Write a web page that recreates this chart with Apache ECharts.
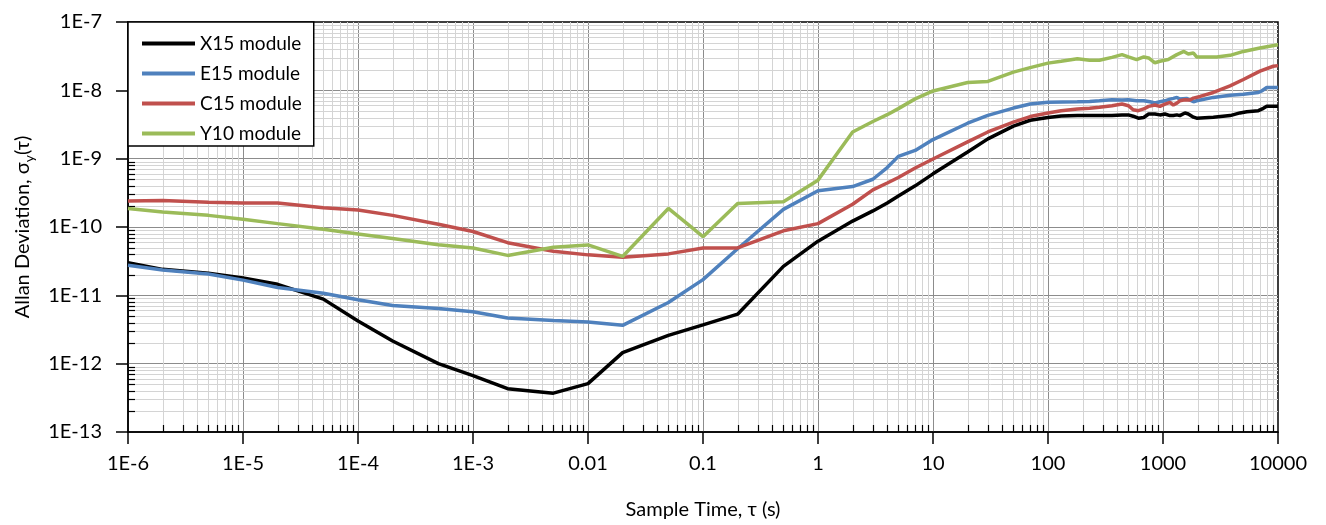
<!DOCTYPE html>
<html>
<head>
<meta charset="utf-8">
<script src="https://cdn.jsdelivr.net/npm/echarts@6/dist/echarts.min.js"></script>
<style>
html, body { margin: 0; padding: 0; background: #fff; }
#chart { width: 1326px; height: 525px; }
</style>
</head>
<body>
<div id="chart"></div>
<script>
// sample times shared by all four modules up to 100 s
const tau = [1e-6, 2e-6, 5e-6, 1e-5, 2e-5, 5e-5, 1e-4, 2e-4, 5e-4, 1e-3, 2e-3, 5e-3,
    0.01, 0.02, 0.05, 0.1, 0.2, 0.5, 1, 2, 3, 4, 5, 7, 10, 20, 30, 50, 70, 100]

const x15 = [3.0e-11, 2.4e-11, 2.1e-11, 1.8e-11, 1.45e-11, 8.8e-12, 4.2e-12, 2.15e-12, 1.0e-12, 6.7e-13, 4.3e-13, 3.7e-13,
    5.1e-13, 1.45e-12, 2.6e-12, 3.7e-12, 5.3e-12, 2.65e-11, 6.2e-11, 1.22e-10, 1.72e-10, 2.25e-10, 2.85e-10, 4.0e-10, 6.0e-10, 1.25e-9, 1.95e-9, 3.0e-9, 3.65e-9, 4.0e-9]
const e15 = [2.75e-11, 2.35e-11, 2.05e-11, 1.67e-11, 1.3e-11, 1.07e-11, 8.6e-12, 7.1e-12, 6.4e-12, 5.75e-12, 4.65e-12, 4.3e-12,
    4.07e-12, 3.64e-12, 7.84e-12, 1.7e-11, 4.8e-11, 1.81e-10, 3.4e-10, 3.9e-10, 5.0e-10, 7.4e-10, 1.08e-9, 1.32e-9, 1.9e-9, 3.3e-9, 4.3e-9, 5.5e-9, 6.3e-9, 6.7e-9]
const c15 = [2.4e-10, 2.45e-10, 2.3e-10, 2.24e-10, 2.24e-10, 1.91e-10, 1.77e-10, 1.48e-10, 1.1e-10, 8.6e-11, 5.9e-11, 4.43e-11,
    3.91e-11, 3.62e-11, 4.04e-11, 4.94e-11, 4.94e-11, 8.8e-11, 1.12e-10, 2.15e-10, 3.5e-10, 4.4e-10, 5.3e-10, 7.3e-10, 9.9e-10, 1.76e-9, 2.46e-9, 3.43e-9, 4.13e-9, 4.65e-9]
const y10 = [1.87e-10, 1.66e-10, 1.48e-10, 1.3e-10, 1.12e-10, 9.3e-11, 7.9e-11, 6.8e-11, 5.5e-11, 4.94e-11, 3.84e-11, 5.06e-11,
    5.46e-11, 3.71e-11, 1.87e-10, 7.22e-11, 2.21e-10, 2.34e-10, 4.85e-10, 2.45e-9, 3.5e-9, 4.4e-9, 5.4e-9, 7.5e-9, 9.8e-9, 1.3e-8, 1.35e-8, 1.85e-8, 2.15e-8, 2.5e-8]

// long sample times, each module has its own points
const x15TailTau = [130, 180, 280, 360, 440, 500, 550, 610, 680, 750, 850, 940, 1040, 1150, 1230, 1320, 1400, 1550, 1660, 1840, 1960, 2740, 3830, 4670, 5350, 6750, 7460, 7980, 10000]
const x15Tail = [4.2e-9, 4.27e-9, 4.27e-9, 4.27e-9, 4.37e-9, 4.37e-9, 4.18e-9, 3.91e-9, 4.0e-9, 4.5e-9, 4.5e-9, 4.37e-9, 4.5e-9, 4.27e-9, 4.27e-9, 4.37e-9, 4.27e-9, 4.67e-9, 4.5e-9, 4.05e-9, 3.91e-9, 4.05e-9, 4.27e-9, 4.67e-9, 4.87e-9, 5.04e-9, 5.45e-9, 5.83e-9, 5.83e-9]
const e15TailTau = [180, 230, 280, 360, 440, 500, 590, 680, 770, 850, 940, 1040, 1150, 1230, 1320, 1400, 1600, 1840, 1960, 2740, 3830, 5000, 6750, 7210, 7980, 10000]
const e15Tail = [6.8e-9, 6.89e-9, 7.03e-9, 7.28e-9, 7.22e-9, 7.28e-9, 7.03e-9, 7.03e-9, 6.8e-9, 6.52e-9, 6.8e-9, 7.03e-9, 7.44e-9, 7.62e-9, 7.88e-9, 7.44e-9, 7.62e-9, 6.8e-9, 7.03e-9, 7.88e-9, 8.5e-9, 8.79e-9, 9.3e-9, 9.79e-9, 1.1e-8, 1.1e-8]
const c15TailTau = [130, 180, 230, 280, 360, 440, 500, 550, 610, 680, 750, 850, 940, 1040, 1150, 1230, 1320, 1400, 1550, 1720, 1840, 2100, 2740, 3830, 5000, 6970, 9100, 10000]
const c15Tail = [5.04e-9, 5.34e-9, 5.45e-9, 5.64e-9, 5.96e-9, 6.3e-9, 5.96e-9, 5.2e-9, 5.04e-9, 5.34e-9, 5.83e-9, 6.1e-9, 5.83e-9, 6.3e-9, 6.67e-9, 6.1e-9, 6.5e-9, 7.03e-9, 7.28e-9, 7.22e-9, 7.7e-9, 8.14e-9, 9.3e-9, 1.16e-8, 1.44e-8, 1.91e-8, 2.25e-8, 2.3e-8]
const y10TailTau = [130, 180, 230, 280, 360, 440, 500, 590, 680, 750, 850, 940, 1110, 1320, 1520, 1660, 1840, 1960, 2930, 3830, 5000, 6970, 10000]
const y10Tail = [2.66e-8, 2.89e-8, 2.76e-8, 2.76e-8, 3.04e-8, 3.33e-8, 3.08e-8, 2.82e-8, 3.08e-8, 2.98e-8, 2.53e-8, 2.66e-8, 2.82e-8, 3.33e-8, 3.71e-8, 3.4e-8, 3.52e-8, 3.08e-8, 3.08e-8, 3.25e-8, 3.71e-8, 4.16e-8, 4.65e-8]

const seriesNames = ['X15 module', 'E15 module', 'C15 module', 'Y10 module']
const seriesColors = ['#000000', '#4f81bd', '#c0504d', '#9bbb59']

const xTickLabels = ['1E-6', '1E-5', '1E-4', '1E-3', '0.01', '0.1', '1', '10', '100', '1000', '10000']
const yTickLabels = ['1E-13', '1E-12', '1E-11', '1E-10', '1E-9', '1E-8', '1E-7']

const X_MIN = 1e-6, X_MAX = 1e4, Y_MIN = 1e-13, Y_MAX = 1e-7
const FONT = 'Lato'

function pairs(t, v) {
    return t.map((x, i) => [x, v[i]])
}

// 2..9 inside every decade, for the light grid and the small ticks
function minors(lo, hi) {
    const out = []
    for (let e = lo; e < hi; e++) {
        for (let k = 2; k <= 9; k++) out.push(k * Math.pow(10, e))
    }
    return out
}

const curves = [
    pairs(tau, x15).concat(pairs(x15TailTau, x15Tail)),
    pairs(tau, e15).concat(pairs(e15TailTau, e15Tail)),
    pairs(tau, c15).concat(pairs(c15TailTau, c15Tail)),
    pairs(tau, y10).concat(pairs(y10TailTau, y10Tail))
]

function xMinorItem(params, api) {
    const b = api.coord([api.value(0), Y_MIN])
    const t = api.coord([api.value(0), Y_MAX])
    const x = Math.round(b[0]) + 0.5
    return {
        type: 'group',
        children: [
            {type: 'line', shape: {x1: x, y1: b[1], x2: x, y2: t[1]}, style: {stroke: '#d4d4d4', lineWidth: 1}},
            {type: 'line', shape: {x1: x, y1: b[1], x2: x, y2: b[1] - 7}, style: {stroke: '#000', lineWidth: 1.2}}
        ]
    }
}

function yMinorItem(params, api) {
    const l = api.coord([X_MIN, api.value(1)])
    const r = api.coord([X_MAX, api.value(1)])
    const y = Math.round(l[1]) + 0.5
    return {
        type: 'group',
        children: [
            {type: 'line', shape: {x1: l[0], y1: y, x2: r[0], y2: y}, style: {stroke: '#d4d4d4', lineWidth: 1}},
            {type: 'line', shape: {x1: l[0], y1: y, x2: l[0] + 7, y2: y}, style: {stroke: '#000', lineWidth: 1.2}}
        ]
    }
}

const chart = echarts.init(document.getElementById('chart'), null, {renderer: 'canvas'})

const option = {
    animation: false,
    backgroundColor: '#fff',
    textStyle: {fontFamily: FONT},
    grid: {
        left: 128, right: 48, top: 22, bottom: 88,
        show: true, borderColor: '#000', borderWidth: 1.5, backgroundColor: 'transparent'
    },
    legend: {
        data: seriesNames,
        orient: 'vertical',
        left: 128, top: 22,
        backgroundColor: '#fff',
        borderColor: '#000', borderWidth: 1.5, borderRadius: 0,
        padding: [12, 12, 3, 14],
        itemGap: 11,
        itemWidth: 53, itemHeight: 4,
        itemTextGap: 6,
        icon: 'rect',
        selectedMode: false,
        textStyle: {fontFamily: FONT, fontSize: 19, color: '#000'}
    },
    xAxis: [
        {
            // data axis (log scale), drawn by the overlay axis below
            type: 'log', logBase: 10, min: X_MIN, max: X_MAX,
            show: false
        },
        {
            // same span in decades, gives one tick per decade
            type: 'value', min: -6, max: 4, interval: 1,
            position: 'bottom',
            name: 'Sample Time, τ (s)',
            nameLocation: 'middle', nameGap: 68,
            nameTextStyle: {fontFamily: FONT, fontSize: 20, color: '#000'},
            axisLine: {show: true, onZero: false, lineStyle: {color: '#000', width: 1.5}},
            axisTick: {show: true, inside: false, length: 12, lineStyle: {color: '#000', width: 1.5}},
            axisLabel: {
                margin: 22, color: '#000', fontFamily: FONT, fontSize: 20,
                formatter: v => xTickLabels[Math.round(v) + 6]
            },
            splitLine: {show: true, showMinLine: false, showMaxLine: false, lineStyle: {color: '#8c8c8c', width: 1}}
        }
    ],
    yAxis: [
        {
            type: 'log', logBase: 10, min: Y_MIN, max: Y_MAX, splitNumber: 6,
            name: 'Allan Deviation, σ{sub|y}(τ)',
            nameLocation: 'middle', nameGap: 92, nameRotate: 90,
            nameTextStyle: {
                fontFamily: FONT, fontSize: 20, color: '#000', lineHeight: 26,
                rich: {sub: {fontFamily: FONT, fontSize: 14, color: '#000', lineHeight: 14, verticalAlign: 'bottom'}}
            },
            axisLine: {show: true, onZero: false, lineStyle: {color: '#000', width: 1.5}},
            axisTick: {show: true, inside: false, length: 12, lineStyle: {color: '#000', width: 1.5}},
            axisLabel: {
                margin: 26, color: '#000', fontFamily: FONT, fontSize: 20,
                formatter: v => yTickLabels[Math.round(Math.log10(v)) + 13]
            },
            splitLine: {show: true, showMinLine: false, showMaxLine: false, lineStyle: {color: '#8c8c8c', width: 1}}
        }
    ],
    series: [
        {
            type: 'custom', name: 'xMinor', xAxisIndex: 0, yAxisIndex: 0,
            silent: true, z: 1,
            renderItem: xMinorItem,
            data: minors(-6, 4).map(v => [v, Y_MIN])
        },
        {
            type: 'custom', name: 'yMinor', xAxisIndex: 0, yAxisIndex: 0,
            silent: true, z: 1,
            renderItem: yMinorItem,
            data: minors(-13, -7).map(v => [X_MIN, v])
        }
    ].concat(curves.map((d, i) => ({
        type: 'line',
        name: seriesNames[i],
        xAxisIndex: 0, yAxisIndex: 0,
        data: d,
        showSymbol: false, symbol: 'none',
        color: seriesColors[i],
        lineStyle: {color: seriesColors[i], width: 3.5},
        emphasis: {disabled: true},
        z: 2 + i
    })))
}

chart.setOption(option)
</script>
</body>
</html>
